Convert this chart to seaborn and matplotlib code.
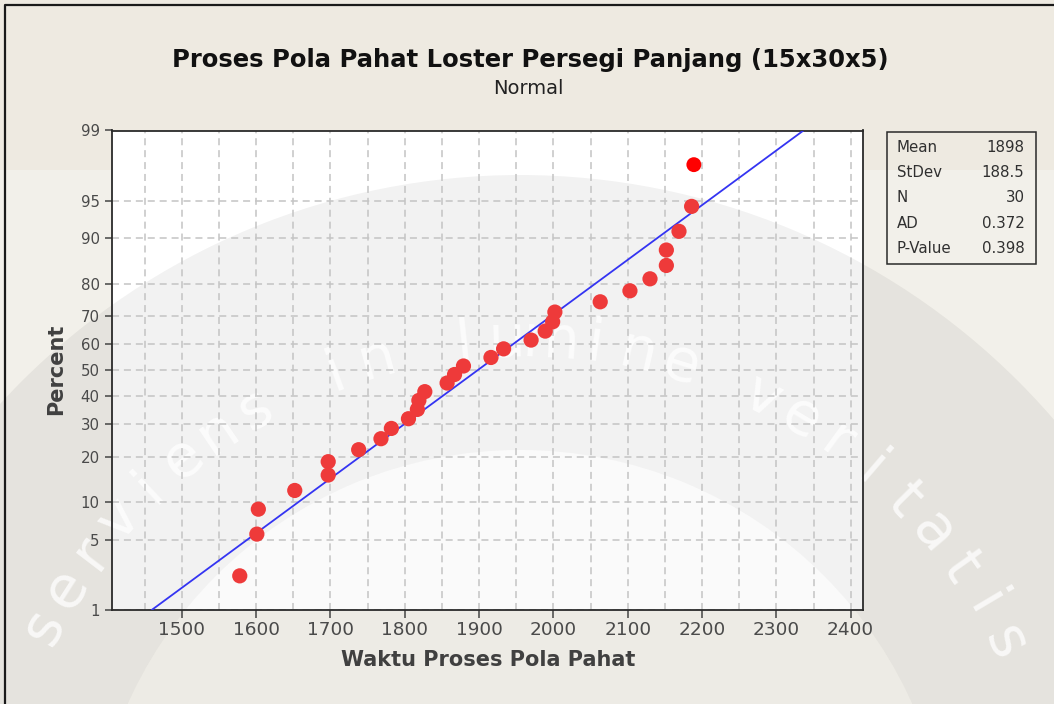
import numpy as np
import pandas as pd
import matplotlib
matplotlib.use("Agg")
import matplotlib.pyplot as plt
import seaborn as sns
from statistics import NormalDist
from matplotlib.patches import Rectangle, Wedge, Circle
from matplotlib.transforms import IdentityTransform
from matplotlib.lines import Line2D

# ---------------- data ----------------
waktu = [1578, 1601, 1603, 1652, 1697, 1697, 1738, 1768, 1782, 1805,
         1817, 1819, 1827, 1857, 1867, 1879, 1916, 1933, 1970, 1989,
         1999, 2002, 2063, 2103, 2130, 2152, 2152, 2169, 2186, 2189]
percent_ticks = [1, 5, 10, 20, 30, 40, 50, 60, 70, 80, 90, 95, 99]
x_ticks = [1500, 1600, 1700, 1800, 1900, 2000, 2100, 2200, 2300, 2400]
stat_labels = ["Mean", "StDev", "N", "AD", "P-Value"]
stat_values = ["1898", "188.5", "30", "0.372", "0.398"]
fit_mean = 1898
fit_sd = 188.5
title = "Proses Pola Pahat Loster Persegi Panjang (15x30x5)"
subtitle = "Normal"
xlabel = "Waktu Proses Pola Pahat"
ylabel = "Percent"
watermark = "serviens in lumine veritatis"

# ---------------- figure ----------------
W, H, DPI = 1054, 704, 100
sns.set_style("white")
plt.rcParams['font.family'] = ['DejaVu Sans']

fig = plt.figure(figsize=(W / DPI, H / DPI), dpi=DPI, facecolor='#EEEAE1')
L, R, T, B = 112.3, 863.3, 130.5, 610.0
ax = fig.add_axes([L / W, 1 - B / H, (R - L) / W, (B - T) / H])
ax.set_facecolor('none')

ID = IdentityTransform()
# page background layers (behind the axes)
fig.add_artist(Rectangle((0, 0), W, H - 170, transform=ID, facecolor='#F2F0EA',
                         edgecolor='none', zorder=-5))
fig.add_artist(Rectangle((L, H - B), R - L, B - T, transform=ID, facecolor='white',
                         edgecolor='none', zorder=-4))
cx, cy = 520, H - 880
fig.add_artist(Wedge((cx, cy), 705, 0, 360, width=275, transform=ID, facecolor='black',
                     alpha=0.05, edgecolor='none', zorder=-3))
fig.add_artist(Circle((cx, cy), 430, transform=ID, facecolor='black', alpha=0.018,
                      edgecolor='none', zorder=-3))
# watermark motto along the arc
n_ch = len(watermark)
ang0, ang1 = 152.0, 26.0
for i, ch in enumerate(watermark):
    th = np.deg2rad(ang0 + (ang1 - ang0) * i / (n_ch - 1))
    rr = 540
    fig.text(cx + rr * np.cos(th), cy + rr * np.sin(th), ch, transform=ID,
             rotation=np.rad2deg(th) - 90, rotation_mode='anchor', ha='center',
             va='center', fontsize=42, color='white', alpha=0.75,
             family='DejaVu Sans', zorder=-2)

# outer frame of the picture
fig.add_artist(Line2D([4.5, 4.5, W + 5], [-5, H - 4.5, H - 4.5], transform=ID,
                      color='#1a1a1a', lw=1.6, zorder=5))

# ---------------- probability plot ----------------
nd = NormalDist()
n = len(waktu)
xs = sorted(waktu)
pct = [(i + 1 - 0.3) / (n + 0.4) for i in range(n)]
z = [nd.inv_cdf(p) for p in pct]
df = pd.DataFrame({"waktu": xs, "z": z})

zlo, zhi = nd.inv_cdf(0.01), nd.inv_cdf(0.99)
zl = np.linspace(zlo, zhi, 60)
line_df = pd.DataFrame({"waktu": fit_mean + fit_sd * zl, "z": zl})
sns.lineplot(data=line_df, x="waktu", y="z", color='#3434F2', lw=1.3, sort=False,
             estimator=None, ax=ax, zorder=3)

sns.scatterplot(data=df.iloc[:-1], x="waktu", y="z", color='#EE3A3A', s=120,
                edgecolor='none', linewidth=0, ax=ax, zorder=4)
sns.scatterplot(data=df.iloc[-1:], x="waktu", y="z", color='#FF0000', s=115,
                edgecolor='none', linewidth=0, ax=ax, zorder=4)

ax.set_xlim(1406.5, 2417)
ax.set_ylim(zlo, zhi)
ax.set_xticks(x_ticks)
ax.set_xticklabels([str(v) for v in x_ticks])
ax.set_xticks(np.arange(1450, 2401, 50), minor=True)
ax.set_yticks([nd.inv_cdf(p / 100) for p in percent_ticks])
ax.set_yticklabels([str(p) for p in percent_ticks])

grid_kw = dict(color='#C4C4C4', lw=1.1, linestyle=(0, (4.6, 3.2)))
ax.grid(True, which='both', axis='x', **grid_kw)
ax.grid(True, which='major', axis='y', **grid_kw)
ax.set_axisbelow(True)

ax.tick_params(axis='x', which='major', direction='out', length=5.5, width=1.1,
               color='#444444', labelsize=13.3, labelcolor='#4a4a4a', pad=2.5,
               bottom=True)
ax.tick_params(axis='y', which='major', direction='out', length=5.0, width=1.1,
               color='#444444', labelsize=10.8, labelcolor='#4a4a4a', pad=4,
               left=True)
ax.tick_params(which='minor', length=0)
for s in ax.spines.values():
    s.set_visible(True)
    s.set_color('#2a2a2a')
    s.set_linewidth(1.3)

ax.set_xlabel(xlabel, fontsize=15, fontweight='bold', color='#404040')
ax.xaxis.set_label_coords(0.5, -(650 - B) / (B - T))
ax.set_ylabel("")
fig.text(56 / W, 1 - 369 / H, ylabel, rotation=90, ha='center', va='center',
         fontsize=15, fontweight='bold', color='#404040')

# titles
fig.text(530 / W, 1 - 67 / H, title, ha='center', va='baseline', fontsize=17.5,
         fontweight='bold', color='#111111')
fig.text(528 / W, 1 - 94 / H, subtitle, ha='center', va='baseline', fontsize=14,
         color='#222222')

# statistics box
bx0, bx1, by0, by1 = 887.3, 1035.7, 131.7, 264.0
fig.add_artist(Rectangle((bx0, H - by1), bx1 - bx0, by1 - by0, transform=ID,
                         facecolor='none', edgecolor='#2a2a2a', lw=1.1, zorder=4))
row_y = [147, 172.5, 198, 223.5, 248.5]
for lab, val, yy in zip(stat_labels, stat_values, row_y):
    fig.text(896.5 / W, 1 - yy / H, lab, ha='left', va='center', fontsize=10.8,
             color='#303030')
    fig.text(1024.5 / W, 1 - yy / H, val, ha='right', va='center', fontsize=10.8,
             color='#303030')

fig.savefig("out.png", dpi=DPI, facecolor=fig.get_facecolor())
